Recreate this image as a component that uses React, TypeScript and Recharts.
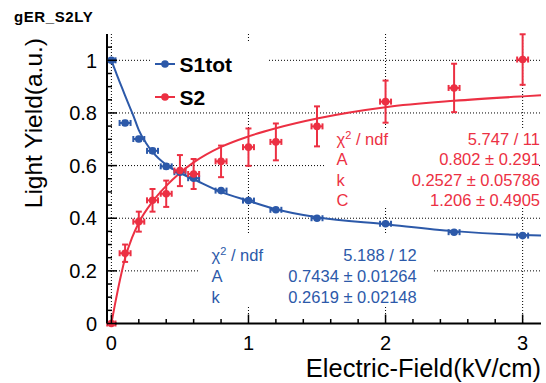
import React from "react";
import {
    ComposedChart, Line, Scatter, ErrorBar, XAxis, YAxis,
    CartesianGrid, Legend, Label
} from "recharts";

// ── DATA ──────────────────────────────────────────────────────
const FIELD     = [0, 0.1, 0.2, 0.3, 0.4, 0.5, 0.6, 0.8, 1.0, 1.2, 1.5, 2.0, 2.5, 3.0];
const FIELD_ERR = [0.03, 0.04, 0.04, 0.04, 0.04, 0.04, 0.04, 0.04, 0.04, 0.04, 0.04, 0.04, 0.04, 0.04];

const S1_LY  = [1.0, 0.762, 0.701, 0.656, 0.597, 0.575, 0.552, 0.505, 0.467, 0.432, 0.400, 0.379, 0.347, 0.334];
const S1_ERR = [0.006, 0.008, 0.008, 0.008, 0.008, 0.006, 0.006, 0.006, 0.005, 0.005, 0.005, 0.005, 0.005, 0.005];

const S2_LY  = [0, 0.267, 0.387, 0.468, 0.493, 0.581, 0.568, 0.616, 0.670, 0.690, 0.749, 0.843, 0.895, 1.003];
const S2_ERR = [0, 0.033, 0.038, 0.043, 0.050, 0.059, 0.057, 0.060, 0.071, 0.070, 0.076, 0.080, 0.092, 0.096];

// fit curves
const S1_FIT_X = [0, 0.02, 0.04, 0.06, 0.08, 0.1, 0.12, 0.16, 0.2, 0.25, 0.3, 0.4, 0.5, 0.6, 0.8, 1.0, 1.2, 1.5, 2.0, 2.5, 3.0, 3.134];
const S1_FIT_Y = [1.0, 0.972, 0.945, 0.918, 0.892, 0.866, 0.84, 0.79, 0.735, 0.688, 0.652, 0.603, 0.572, 0.548, 0.500, 0.466, 0.434, 0.404, 0.377, 0.351, 0.336, 0.334];

const S2_FIT_X = [0, 0.025, 0.05, 0.075, 0.1, 0.15, 0.2, 0.3, 0.4, 0.5, 0.6, 0.8, 1.0, 1.2, 1.5, 2.0, 2.5, 3.0, 3.134];
const S2_FIT_Y = [0, 0.07, 0.135, 0.195, 0.248, 0.325, 0.383, 0.463, 0.523, 0.572, 0.612, 0.671, 0.711, 0.742, 0.779, 0.822, 0.846, 0.863, 0.867];

// axes
const X_DOMAIN = [-0.032, 3.134];
const Y_DOMAIN = [0, 1.1];
const X_TICKS = [0, 0.2, 0.4, 0.6, 0.8, 1, 1.2, 1.4, 1.6, 1.8, 2, 2.2, 2.4, 2.6, 2.8, 3];
const X_MAJOR = [0, 1, 2, 3];
const Y_TICKS = [0, 0.05, 0.1, 0.15, 0.2, 0.25, 0.3, 0.35, 0.4, 0.45, 0.5, 0.55, 0.6, 0.65, 0.7, 0.75, 0.8, 0.85, 0.9, 0.95, 1, 1.05];
const Y_MAJOR = [0, 0.2, 0.4, 0.6, 0.8, 1];

// fit results
const S1_STATS = [["χ2 / ndf", "5.188 / 12"], ["A", "0.7434 ± 0.01264"], ["k", "0.2619 ± 0.02148"]];
const S2_STATS = [["χ2 / ndf", "5.747 / 11"], ["A", "0.802 ± 0.291"], ["k", "0.2527 ± 0.05786"], ["C", "1.206 ± 0.4905"]];

// ── STYLE ─────────────────────────────────────────────────────
const FONT = '"Liberation Sans", Arial, Helvetica, sans-serif';
const RED = "#ec3043";
const BLUE = "#2c59a9";

const s1Points = FIELD.map((x, i) => ({ x, y: S1_LY[i], ex: FIELD_ERR[i], ey: S1_ERR[i] }));
const s2Points = FIELD.map((x, i) => ({ x, y: S2_LY[i], ex: FIELD_ERR[i], ey: S2_ERR[i] }));
const s1Fit = S1_FIT_X.map((x, i) => ({ x, y: S1_FIT_Y[i] }));
const s2Fit = S2_FIT_X.map((x, i) => ({ x, y: S2_FIT_Y[i] }));

const isMajor = (v: number, list: number[]) => list.some(m => Math.abs(m - v) < 1e-6);

// ── TICKS (ROOT style: inward, on all four sides) ─────────────
const BottomTick = ({ x, y, payload }: any) => {
    const major = isMajor(payload.value, X_MAJOR);
    return (
        <g>
            <line x1={x} x2={x} y1={y} y2={y - (major ? 9 : 4.5)} stroke="#000" strokeWidth={1.5} />
            {major && (
                <text x={x} y={y + 26.5} textAnchor="middle" fontSize={20} fontFamily={FONT} fill="#000">
                    {String(payload.value)}
                </text>
            )}
        </g>
    );
};
const TopTick = ({ x, y, payload }: any) => {
    const major = isMajor(payload.value, X_MAJOR);
    return <line x1={x} x2={x} y1={y} y2={y + (major ? 9 : 4.5)} stroke="#000" strokeWidth={1.5} />;
};
const LeftTick = ({ x, y, payload }: any) => {
    const major = isMajor(payload.value, Y_MAJOR);
    return (
        <g>
            <line x1={x} x2={x + (major ? 10 : 5)} y1={y} y2={y} stroke="#000" strokeWidth={1.5} />
            {major && (
                <text x={x - 10} y={y} dy="0.36em" textAnchor="end" fontSize={20} fontFamily={FONT} fill="#000">
                    {String(payload.value)}
                </text>
            )}
        </g>
    );
};
const RightTick = ({ x, y, payload }: any) => {
    const major = isMajor(payload.value, Y_MAJOR);
    return <line x1={x} x2={x - (major ? 10 : 5)} y1={y} y2={y} stroke="#000" strokeWidth={1.5} />;
};

const Dot = (color: string) => (p: any) => <circle cx={p.cx} cy={p.cy} r={3.8} fill={color} />;

// ── LEGEND ────────────────────────────────────────────────────
const LEGEND_ITEMS = [{ name: "S1tot", color: BLUE }, { name: "S2", color: RED }];
const LegendBox = () => (
    <svg width={118} height={70} style={{ display: "block", background: "#fff" }}>
        {LEGEND_ITEMS.map((it, i) => (
            <g key={it.name}>
                <line x1={5} x2={25} y1={22 + i * 33} y2={22 + i * 33} stroke={it.color} strokeWidth={2} />
                <circle cx={15} cy={22 + i * 33} r={3.8} fill={it.color} />
                <text x={29.5} y={29.5 + i * 33} fontSize={21} fontWeight={700} fontFamily={FONT} fill="#000">
                    {it.name}
                </text>
            </g>
        ))}
    </svg>
);

// ── STATS BOX ─────────────────────────────────────────────────
const StatsBox = ({ rows, color, box, text, firstBase, step }: any) => (
    <>
        <div style={{ position: "absolute", left: box[0], top: box[1], width: box[2], height: box[3], background: "#fff" }} />
        {rows.map(([k, v]: string[], i: number) => (
            <div key={k} style={{
                position: "absolute", left: text[0], width: text[1] - text[0],
                top: firstBase + i * step - 15.7, height: 20, lineHeight: "20px",
                display: "flex", justifyContent: "space-between",
                fontSize: 16.5, fontFamily: FONT, color, whiteSpace: "nowrap",
            }}>
                <span>
                    {k.startsWith("χ2") ? <>χ<sup style={{ fontSize: 11, lineHeight: 0 }}>2</sup>{k.slice(2)}</> : k}
                </span>
                <span>{v}</span>
            </div>
        ))}
    </>
);

export default function App() {
    return (
        <div style={{ position: "absolute", left: 0, top: 0, width: 546, height: 383, background: "#fff", fontFamily: FONT }}>
            <div style={{ position: "absolute", left: 14, top: 8, fontSize: 15, fontWeight: 700, letterSpacing: 0.6 }}>
                gER_S2LY
            </div>
            <ComposedChart width={546} height={383} margin={{ top: 34, right: 5, bottom: 0, left: 0 }}>
                <CartesianGrid
                    stroke="#000" strokeDasharray="1 2" strokeWidth={1}
                    horizontalValues={Y_MAJOR.filter(v => v > 0)} verticalValues={X_MAJOR}
                />
                <XAxis
                    type="number" dataKey="x" domain={X_DOMAIN} ticks={X_TICKS} interval={0}
                    height={59.5} tickSize={0} tickMargin={0} tickLine={false}
                    axisLine={{ stroke: "#000", strokeWidth: 2 }} tick={<BottomTick />}
                >
                    <Label content={(p: any) => (
                        <text x={p.viewBox.x + p.viewBox.width} y={p.viewBox.y + 53} textAnchor="end"
                              fontSize={25.5} fontFamily={FONT} fill="#000">Electric-Field(kV/cm)</text>
                    )} />
                </XAxis>
                <XAxis
                    xAxisId="top" orientation="top" type="number" dataKey="x" domain={X_DOMAIN} ticks={X_TICKS}
                    interval={0} height={0} tickSize={0} tickMargin={0} tickLine={false}
                    axisLine={{ stroke: "#000", strokeWidth: 2 }} tick={<TopTick />}
                />
                <YAxis
                    type="number" dataKey="y" domain={Y_DOMAIN} ticks={Y_TICKS} interval={0}
                    width={107} tickSize={0} tickMargin={0} tickLine={false}
                    axisLine={{ stroke: "#000", strokeWidth: 2 }} tick={<LeftTick />}
                >
                    <Label content={(p: any) => (
                        <text x={42} y={p.viewBox.y + 4} textAnchor="end" transform={`rotate(-90 42 ${p.viewBox.y + 4})`}
                              fontSize={24.5} fontFamily={FONT} fill="#000">Light Yield(a.u.)</text>
                    )} />
                </YAxis>
                <YAxis
                    yAxisId="right" orientation="right" type="number" dataKey="y" domain={Y_DOMAIN} ticks={Y_TICKS}
                    interval={0} width={0} tickSize={0} tickMargin={0} tickLine={false}
                    axisLine={{ stroke: "#000", strokeWidth: 2 }} tick={<RightTick />}
                />

                <Line data={s1Fit} dataKey="y" type="monotone" stroke={BLUE} strokeWidth={2} dot={false} isAnimationActive={false} />
                <Scatter data={s1Points} dataKey="y" fill={BLUE} shape={Dot(BLUE)} isAnimationActive={false}>
                    <ErrorBar dataKey="ey" direction="y" width={3} stroke={BLUE} strokeWidth={2} isAnimationActive={false} />
                    <ErrorBar dataKey="ex" direction="x" width={3} stroke={BLUE} strokeWidth={2} isAnimationActive={false} />
                </Scatter>
                <Line data={s2Fit} dataKey="y" type="monotone" stroke={RED} strokeWidth={2} dot={false} isAnimationActive={false} />
                <Scatter data={s2Points} dataKey="y" fill={RED} shape={Dot(RED)} isAnimationActive={false}>
                    <ErrorBar dataKey="ey" direction="y" width={3} stroke={RED} strokeWidth={2} isAnimationActive={false} />
                    <ErrorBar dataKey="ex" direction="x" width={3} stroke={RED} strokeWidth={2} isAnimationActive={false} />
                </Scatter>

                <Legend
                    layout="horizontal" verticalAlign="middle" align="center"
                    content={() => <LegendBox />}
                    wrapperStyle={{ left: 150, top: 42, width: 118, height: 70 }}
                />
            </ComposedChart>

            <StatsBox rows={S2_STATS} color={RED} box={[324, 129, 215, 78]} text={[336.5, 540]} firstBase={144.5} step={20.4} />
            <StatsBox rows={S1_STATS} color={BLUE} box={[200, 235, 232, 70]} text={[211.5, 416.7]} firstBase={260.5} step={21.1} />
        </div>
    );
}
